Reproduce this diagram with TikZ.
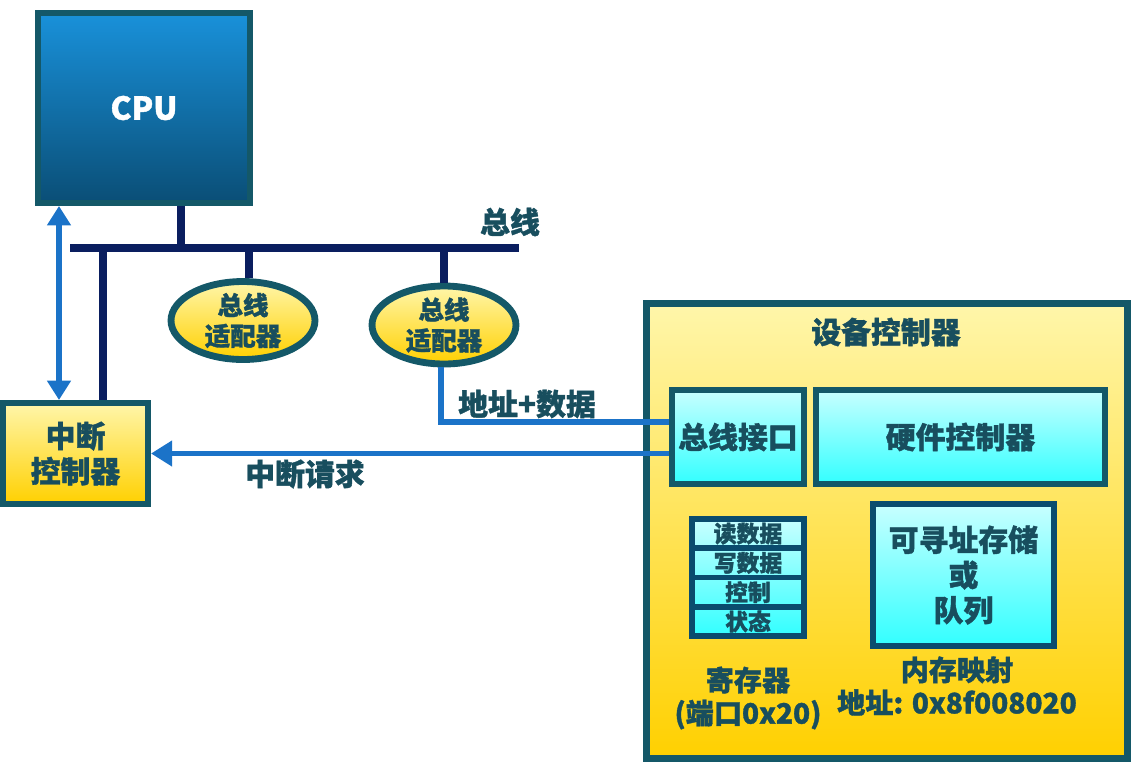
\documentclass[tikz,border=0pt]{standalone}
\usepackage{fontspec}
\setmainfont[BoldFeatures={FakeBold=1.2}]{Noto Sans CJK SC}
\usetikzlibrary{shapes.geometric,arrows.meta,calc,positioning}

\definecolor{edgeteal}{RGB}{20,88,104}
\definecolor{edgenavy}{RGB}{10,76,110}
\definecolor{txtteal}{RGB}{24,78,94}
\definecolor{busnavy}{RGB}{10,30,95}
\definecolor{linkblue}{RGB}{27,115,200}
\definecolor{cputop}{RGB}{25,145,218}
\definecolor{cpubot}{RGB}{10,78,118}
\definecolor{yeltop}{RGB}{255,246,170}
\definecolor{yelbot}{RGB}{255,208,0}
\definecolor{cyantop}{RGB}{200,255,255}
\definecolor{cyanbot}{RGB}{50,255,255}

\newcommand{\fsz}[2]{\fontsize{#1}{#2}\selectfont\bfseries}

\begin{document}
\begin{tikzpicture}[x=0.02cm, y=-0.02cm,
    every node/.style={text=txtteal, inner sep=0pt},
    box/.style={rectangle, draw=edgeteal, line width=3.4pt},
    yelbox/.style={box, top color=yeltop, bottom color=yelbot},
    cyanbox/.style={box, top color=cyantop, bottom color=cyanbot, font=\fsz{17pt}{20pt}},
    regcell/.style={box, draw=edgenavy, minimum width=2.24cm, minimum height=0.585cm, font=\fsz{13pt}{15pt}},
    adapter/.style={ellipse, draw=edgeteal, line width=3.9pt, top color=yeltop, bottom color=yelbot,
        minimum width=2.88cm, minimum height=1.56cm, align=center, font=\fsz{14.5pt}{17.5pt}},
    bus/.style={draw=busnavy, line width=4pt},
    link/.style={draw=linkblue, line width=3.2pt},
    reqarrow/.style={-{Triangle[width=14pt,length=12pt]}},
    txt/.style={font=\fsz{17pt}{20pt}, align=center}
]
    \useasboundingbox (0,0) rectangle (1140,772);

    % CPU, bus and interrupt controller
    \node[box, top color=cputop, bottom color=cpubot, text=white, font=\fsz{18pt}{20pt},
          minimum width=4.24cm, minimum height=3.8cm] (cpu) at (144,108) {CPU};
    \node[yelbox, txt, minimum width=2.9cm, minimum height=2.02cm] (intc) at (75.5,453.5) {中断\\控制器};

    \coordinate (busl) at (70,248);
    \coordinate (busr) at (519,248);
    \coordinate (cpustub) at (181,248);
    \coordinate (intcstub) at (103,248);
    \coordinate (ad1stub) at (249,248);
    \coordinate (dbl) at (59,300);

    \draw[bus] (busl) -- (busr);
    \draw[bus] (cpu.south -| cpustub) -- (cpustub);
    \draw[bus] (intcstub) -- (intcstub |- intc.north);
    \node[txt] (buslabel) at (510,222) {总线};

    \node[adapter] (ad1) at (243,320.5) {总线\\适配器};
    \node[adapter] (ad2) at (444,325) {总线\\适配器};
    \draw[bus] (ad1stub |- ad1.north) -- (ad1stub);
    \draw[bus] (ad2.north) -- (ad2.north |- busl);

    % device controller
    \node[yelbox, line width=4pt, minimum width=9.62cm, minimum height=9.1cm] (dev) at (887,531) {};
    \node[txt] (devtitle) at (886,332) {设备控制器};
    \node[cyanbox, minimum width=2.64cm, minimum height=1.88cm] (busif) at (738,437) {总线接口};
    \node[cyanbox, minimum width=5.78cm, minimum height=1.88cm] (hwc) at (960.5,437) {硬件控制器};
    \node[cyanbox, draw=edgenavy, minimum width=3.62cm, minimum height=2.84cm, align=center] (store) at (963.5,575) {可寻址存储\\或\\队列};

    \node[regcell, top color=cyantop, bottom color=cyantop!75!cyanbot] (rdreg) at (748,533.6) {读数据};
    \node[regcell, top color=cyantop!75!cyanbot, bottom color=cyantop!50!cyanbot] (wrreg) at (748,562.9) {写数据};
    \node[regcell, top color=cyantop!50!cyanbot, bottom color=cyantop!25!cyanbot] (ctlreg) at (748,592.1) {控制};
    \node[regcell, top color=cyantop!25!cyanbot, bottom color=cyanbot] (streg) at (748,621.4) {状态};

    \node[txt, font=\fsz{16pt}{18.7pt}] (regcap) at (748,698) {寄存器\\(端口0x20)};
    \node[txt, font=\fsz{16pt}{18.7pt}] (memcap) at (957,686) {内存映射\\地址: 0x8f008020};

    % blue links
    \draw[link] ($(ad2.south)+(-3,0)$) |- ($(busif.west)+(0,-15)$);
    \node[txt] (addrlabel) at (527,404) {地址+数据};
    \draw[link, reqarrow] (busif.west |- intc.east) -- (intc.east);
    \node[txt] (reqlabel) at (305,474) {中断请求};
    \draw[link, line width=3.4pt, {Triangle[width=13pt,length=11pt]}-{Triangle[width=13pt,length=11pt]}]
        (cpu.south -| dbl) -- (intc.north -| dbl);

\end{tikzpicture}
\end{document}
